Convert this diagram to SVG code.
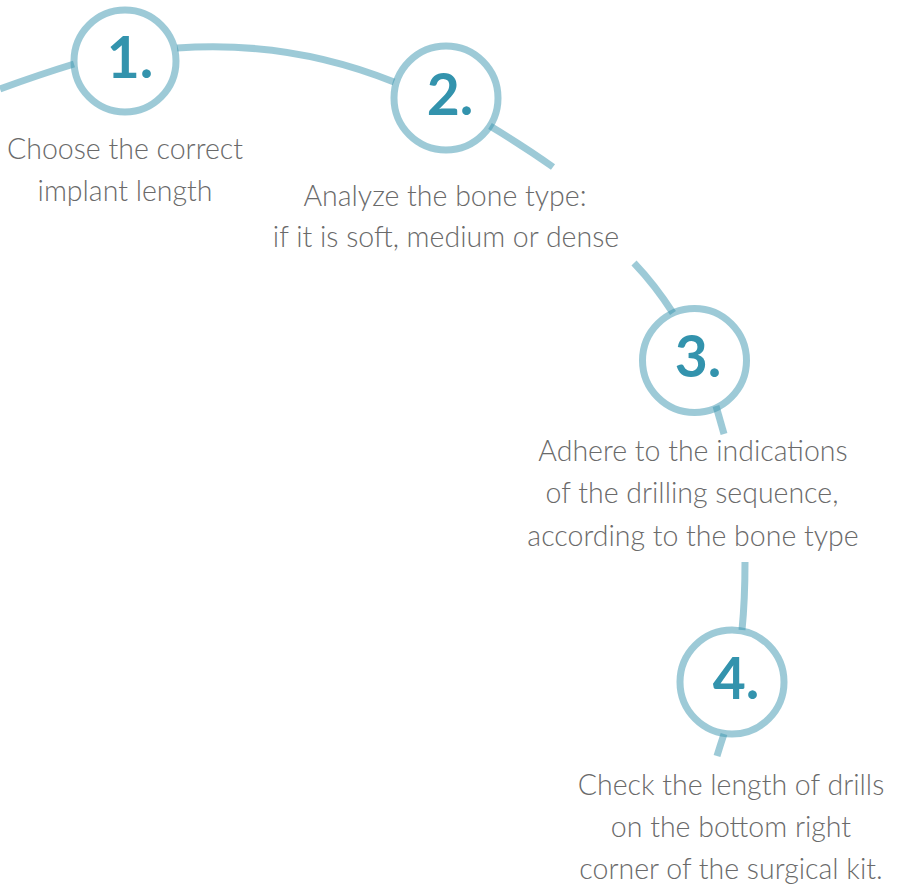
<svg xmlns="http://www.w3.org/2000/svg" width="899" height="888" viewBox="0 0 899 888">
<style>
.ring{fill:none;stroke:#3b95b0;stroke-opacity:0.5;stroke-width:7}
.link{fill:none;stroke:#3b95b0;stroke-opacity:0.5;stroke-width:7}
.num{font-family:Lato,"Liberation Sans",sans-serif;font-weight:700;font-size:57px;fill:#3393ad;text-anchor:middle}
.lbl{font-family:Lato,"Liberation Sans",sans-serif;font-weight:300;font-size:28.5px;fill:#6a6a6a;text-anchor:middle}
</style>
<rect width="899" height="888" fill="#fff"/>
<g id="connectors">
<path class="link" d="M0,89 Q38,75 74,64"/>
<path class="link" d="M177,48 Q290,40 394,82"/>
<path class="link" d="M490,126 Q525,147 553,167"/>
<path class="link" d="M634,263 Q655,285 673,313"/>
<path class="link" d="M716,406 Q720,420 724,434"/>
<path class="link" d="M745,562 Q745,600 742,630"/>
<path class="link" d="M724,734 Q720,746 717,756"/>
</g>
<g id="step1">
<circle class="ring" cx="125" cy="61" r="51"/>
<text class="num" x="130" y="78">1.</text>
<text class="lbl" x="125" y="159">Choose the correct</text>
<text class="lbl" x="125" y="201">implant length</text>
</g>
<g id="step2">
<circle class="ring" cx="446" cy="98" r="52"/>
<text class="num" x="450" y="115">2.</text>
<text class="lbl" x="445" y="206">Analyze the bone type:</text>
<text class="lbl" x="446" y="247">if it is soft, medium or dense</text>
</g>
<g id="step3">
<circle class="ring" cx="694.5" cy="360.5" r="52"/>
<text class="num" x="698" y="377">3.</text>
<text class="lbl" x="693" y="461">Adhere to the indications</text>
<text class="lbl" x="692" y="503">of the drilling sequence,</text>
<text class="lbl" x="693" y="546">according to the bone type</text>
</g>
<g id="step4">
<circle class="ring" cx="732" cy="682" r="52"/>
<text class="num" x="736" y="699">4.</text>
<text class="lbl" x="731" y="795">Check the length of drills</text>
<text class="lbl" x="731" y="837">on the bottom right</text>
<text class="lbl" x="731" y="879">corner of the surgical kit.</text>
</g>
</svg>
